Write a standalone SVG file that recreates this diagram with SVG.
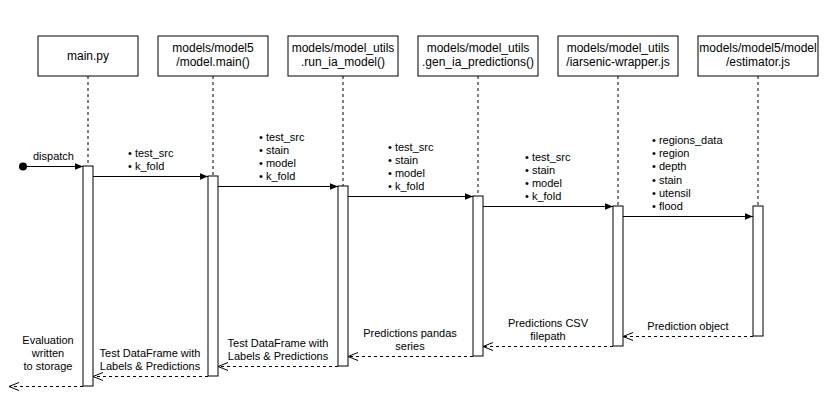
<svg xmlns="http://www.w3.org/2000/svg" width="835" height="414" viewBox="0 0 835 414">
<defs>
<marker id="filled" viewBox="0 0 10 10" refX="10" refY="5" markerWidth="8" markerHeight="8" markerUnits="userSpaceOnUse" orient="auto">
<path d="M0,1 L10,5 L0,9 Z" fill="#000"/>
</marker>
<marker id="open" viewBox="0 0 10 10" refX="10" refY="5" markerWidth="10" markerHeight="10" markerUnits="userSpaceOnUse" orient="auto">
<path d="M0,1 L10,5 L0,9" fill="none" stroke="#000" stroke-width="1"/>
</marker>
</defs>
<style>
.box{fill:#fff;stroke:#000;stroke-width:1}
.bar{fill:#fff;stroke:#000;stroke-width:1}
.life{stroke:#000;stroke-width:1;stroke-dasharray:3,3;fill:none}
.msg{stroke:#000;stroke-width:1;fill:none}
.ret{stroke:#000;stroke-width:1;stroke-dasharray:3,3;fill:none}
.title{font-family:"Liberation Sans",Arial,sans-serif;font-size:12px;fill:#000;text-anchor:middle}
.lbl{font-family:"Liberation Sans",Arial,sans-serif;font-size:11px;fill:#000}
.lblc{font-family:"Liberation Sans",Arial,sans-serif;font-size:11px;fill:#000;text-anchor:middle}
</style>
<rect width="835" height="414" fill="#fff"/>

<g id="node-main">
<rect class="box" x="38" y="36" width="100" height="40"/>
<text class="title" x="88" y="60">main.py</text>
<line class="life" x1="88" y1="76" x2="88" y2="166"/>
<rect class="bar" x="83" y="166" width="10" height="220"/>
</g>
<g id="node-model-main">
<rect class="box" x="158" y="36" width="110" height="40"/>
<text class="title" x="213" y="52">models/model5</text>
<text class="title" x="213" y="66">/model.main()</text>
<line class="life" x1="213" y1="76" x2="213" y2="176"/>
<rect class="bar" x="208" y="176" width="10" height="200"/>
</g>
<g id="node-run-ia">
<rect class="box" x="288" y="36" width="110" height="40"/>
<text class="title" x="343" y="52">models/model_utils</text>
<text class="title" x="343" y="66">.run_ia_model()</text>
<line class="life" x1="343" y1="76" x2="343" y2="186"/>
<rect class="bar" x="338" y="186" width="10" height="180"/>
</g>
<g id="node-gen-ia">
<rect class="box" x="418" y="36" width="120" height="40"/>
<text class="title" x="478" y="52">models/model_utils</text>
<text class="title" x="478" y="66">.gen_ia_predictions()</text>
<line class="life" x1="478" y1="76" x2="478" y2="196"/>
<rect class="bar" x="473" y="196" width="10" height="160"/>
</g>
<g id="node-wrapper">
<rect class="box" x="558" y="36" width="120" height="40"/>
<text class="title" x="618" y="52">models/model_utils</text>
<text class="title" x="618" y="66">/iarsenic-wrapper.js</text>
<line class="life" x1="618" y1="76" x2="618" y2="206"/>
<rect class="bar" x="613" y="206" width="10" height="140"/>
</g>
<g id="node-estimator">
<rect class="box" x="698" y="36" width="120" height="40"/>
<text class="title" x="758" y="52">models/model5/model</text>
<text class="title" x="758" y="66">/estimator.js</text>
<line class="life" x1="758" y1="76" x2="758" y2="206"/>
<rect class="bar" x="753" y="206" width="10" height="130"/>
</g>

<g id="connectors">
<circle cx="23" cy="166.5" r="4" fill="#000"/>
<line class="msg" x1="23" y1="166.5" x2="83" y2="166.5" marker-end="url(#filled)"/>
<text class="lbl" x="33" y="160">dispatch</text>

<line class="msg" x1="93" y1="176.5" x2="208" y2="176.5" marker-end="url(#filled)"/>
<text class="lbl" x="128" y="157">• test_src</text>
<text class="lbl" x="128" y="170">• k_fold</text>

<line class="msg" x1="218" y1="186.5" x2="338" y2="186.5" marker-end="url(#filled)"/>
<text class="lbl" x="259" y="141">• test_src</text>
<text class="lbl" x="259" y="154">• stain</text>
<text class="lbl" x="259" y="167">• model</text>
<text class="lbl" x="259" y="180">• k_fold</text>

<line class="msg" x1="348" y1="196.5" x2="473" y2="196.5" marker-end="url(#filled)"/>
<text class="lbl" x="388" y="151">• test_src</text>
<text class="lbl" x="388" y="164">• stain</text>
<text class="lbl" x="388" y="177">• model</text>
<text class="lbl" x="388" y="190">• k_fold</text>

<line class="msg" x1="483" y1="206.5" x2="613" y2="206.5" marker-end="url(#filled)"/>
<text class="lbl" x="525" y="161">• test_src</text>
<text class="lbl" x="525" y="174">• stain</text>
<text class="lbl" x="525" y="187">• model</text>
<text class="lbl" x="525" y="200">• k_fold</text>

<line class="msg" x1="623" y1="216.5" x2="753" y2="216.5" marker-end="url(#filled)"/>
<text class="lbl" x="652" y="144">• regions_data</text>
<text class="lbl" x="652" y="157">• region</text>
<text class="lbl" x="652" y="170">• depth</text>
<text class="lbl" x="652" y="184">• stain</text>
<text class="lbl" x="652" y="197">• utensil</text>
<text class="lbl" x="652" y="210">• flood</text>

<line class="ret" x1="753" y1="336.5" x2="623" y2="336.5" marker-end="url(#open)"/>
<text class="lblc" x="688" y="330">Prediction object</text>

<line class="ret" x1="613" y1="346.5" x2="483" y2="346.5" marker-end="url(#open)"/>
<text class="lblc" x="548" y="327">Predictions CSV</text>
<text class="lblc" x="548" y="340">filepath</text>

<line class="ret" x1="473" y1="356.5" x2="348" y2="356.5" marker-end="url(#open)"/>
<text class="lblc" x="410" y="337">Predictions pandas</text>
<text class="lblc" x="410" y="350">series</text>

<line class="ret" x1="338" y1="366.5" x2="218" y2="366.5" marker-end="url(#open)"/>
<text class="lblc" x="278" y="347">Test DataFrame with</text>
<text class="lblc" x="278" y="360">Labels &amp; Predictions</text>

<line class="ret" x1="208" y1="376.5" x2="93" y2="376.5" marker-end="url(#open)"/>
<text class="lblc" x="150" y="357">Test DataFrame with</text>
<text class="lblc" x="150" y="370">Labels &amp; Predictions</text>

<line class="ret" x1="83" y1="386.5" x2="9" y2="386.5" marker-end="url(#open)"/>
<text class="lblc" x="48" y="344">Evaluation</text>
<text class="lblc" x="48" y="357">written</text>
<text class="lblc" x="48" y="370">to storage</text>
</g>
</svg>
